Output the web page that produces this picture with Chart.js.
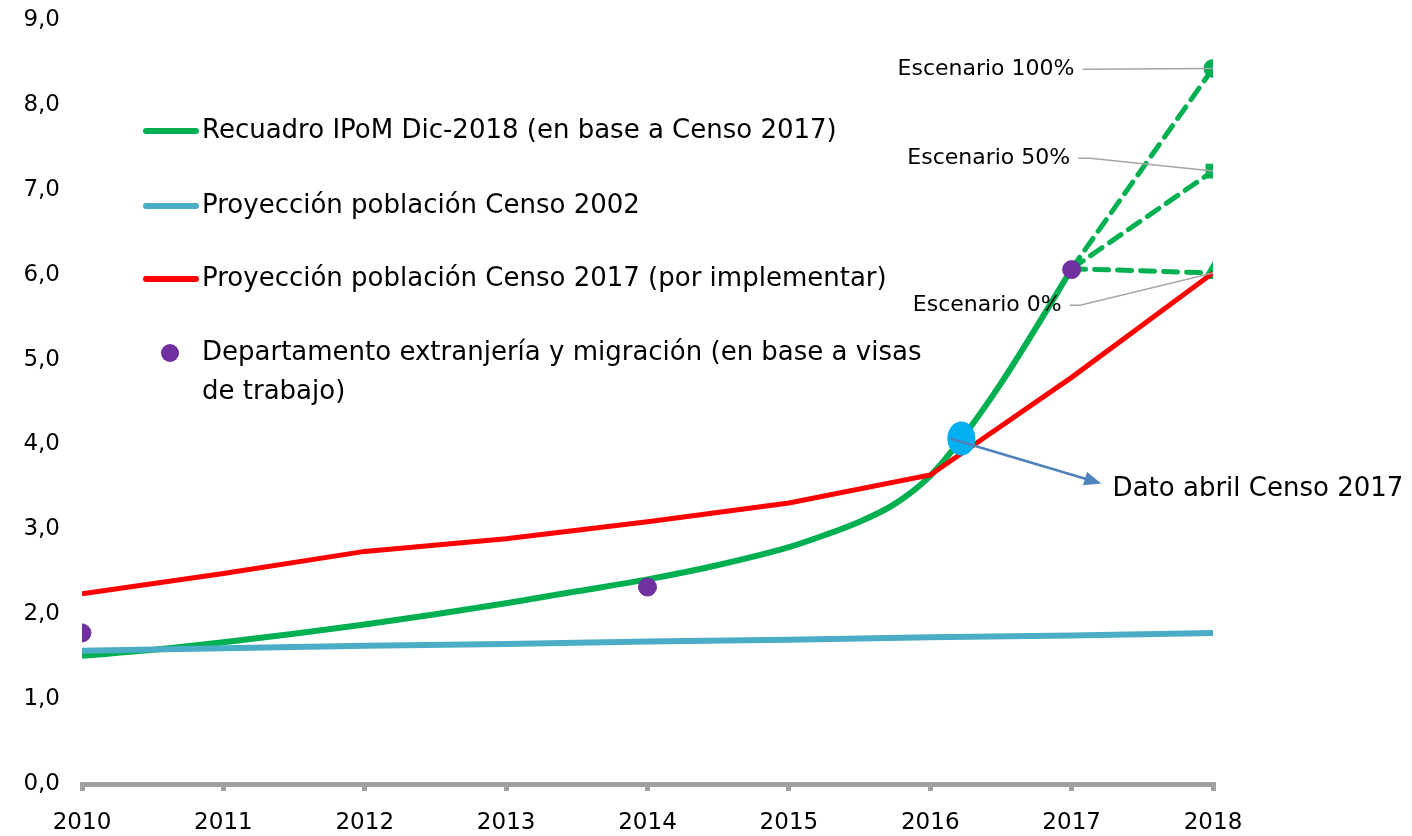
<!DOCTYPE html>
<html>
<head>
<meta charset="utf-8">
<script src="https://cdn.jsdelivr.net/npm/chart.js@4.4.1/dist/chart.umd.min.js"></script>
<style>
html, body { margin: 0; padding: 0; background: #fff; }
#wrap { width: 1412px; height: 836px; position: relative; }
</style>
</head>
<body>
<div id="wrap"><canvas id="graph"></canvas></div>
<script>
// --- data ---
const years = [2010, 2011, 2012, 2013, 2014, 2015, 2016, 2017, 2018];

const ipomX = [2010, 2010.5, 2011, 2011.5, 2012, 2012.5, 2013, 2013.5, 2014, 2014.5, 2015, 2015.25, 2015.5, 2015.75, 2016, 2016.25, 2016.5, 2016.75, 2017];
const ipomY = [1.51, 1.58, 1.67, 1.77, 1.88, 2.00, 2.13, 2.27, 2.41, 2.58, 2.79, 2.93, 3.09, 3.30, 3.63, 4.13, 4.72, 5.38, 6.07];

const censo2002 = [1.57, 1.60, 1.63, 1.65, 1.68, 1.70, 1.73, 1.75, 1.78];
const censo2017 = [2.24, 2.48, 2.74, 2.89, 3.09, 3.31, 3.64, 4.79, 6.02];

const demX = [2010, 2014, 2017];
const demY = [1.78, 2.32, 6.06];

const scenarioNames = ["Escenario 100%", "Escenario 50%", "Escenario 0%"];
const scenarioEnd = [8.43, 7.22, 6.02];
const scenarioStyle = ["circle", "rect", "triangle"];
const scenarioStart = 6.07;

const censoAbril = { x: 2016.22, y: 4.07 };
const censoLabel = "Dato abril Censo 2017";

const legendLabels = [
  "Recuadro IPoM Dic-2018 (en base a Censo 2017)",
  "Proyección población Censo 2002",
  "Proyección población Censo 2017 (por implementar)",
  "Departamento extranjería y migración (en base a visas",
  "de trabajo)"
];

const GREEN = "#00B050", TEAL = "#4BACC6", RED = "#FF0000", PURPLE = "#7030A0";
const FONT = "'DejaVu Sans', sans-serif";

function pts(xs, ys) {
  return xs.map((x, i) => ({ x: x, y: ys[i] }));
}

const datasets = [
  {
    label: legendLabels[0], data: pts(ipomX, ipomY),
    borderColor: GREEN, borderWidth: 6, pointRadius: 0,
    cubicInterpolationMode: "monotone", order: 3
  },
  {
    label: legendLabels[1], data: pts(years, censo2002),
    borderColor: TEAL, borderWidth: 6, pointRadius: 0, order: 2
  },
  {
    label: legendLabels[2], data: pts(years, censo2017),
    borderColor: RED, borderWidth: 5, pointRadius: 0, order: 1
  },
  {
    label: legendLabels[3], data: pts(demX, demY),
    showLine: false, pointRadius: 9, pointHoverRadius: 9,
    backgroundColor: PURPLE, borderColor: PURPLE, order: 0
  }
];
scenarioEnd.forEach((v, i) => {
  datasets.push({
    label: scenarioNames[i],
    data: [{ x: 2017, y: scenarioStart }, { x: 2018, y: v }],
    borderColor: GREEN, backgroundColor: GREEN, borderWidth: 5,
    borderDash: [14, 9], borderCapStyle: "round",
    pointStyle: scenarioStyle[i], pointRadius: [0, 7], order: 4
  });
});

// label anchors for the scenario call-outs (x, y in data units)
const scenarioLabelAt = [
  { x: 2017.02, y: 8.42, bend: [2017.08, 8.42] },
  { x: 2016.99, y: 7.37, bend: [2017.13, 7.37] },
  { x: 2016.93, y: 5.64, bend: [2017.06, 5.64] }
];

const overlay = {
  id: "overlay",
  afterDatasetsDraw(chart) {
    const ctx = chart.ctx;
    const xs = chart.scales.x, ys = chart.scales.y;
    ctx.save();

    // scenario call-outs
    ctx.font = "22px " + FONT;
    ctx.fillStyle = "#000";
    ctx.textAlign = "right";
    ctx.textBaseline = "middle";
    ctx.strokeStyle = "#A6A6A6";
    ctx.lineWidth = 1.5;
    scenarioLabelAt.forEach((a, i) => {
      const lx = xs.getPixelForValue(a.x), ly = ys.getPixelForValue(a.y);
      ctx.fillText(scenarioNames[i], lx, ly);
      ctx.beginPath();
      ctx.moveTo(lx + 8, ly);
      ctx.lineTo(xs.getPixelForValue(a.bend[0]), ys.getPixelForValue(a.bend[1]));
      ctx.lineTo(xs.getPixelForValue(2018), ys.getPixelForValue(scenarioEnd[i]));
      ctx.stroke();
    });

    // april census ellipse + arrow
    const cx = xs.getPixelForValue(censoAbril.x), cy = ys.getPixelForValue(censoAbril.y);
    ctx.fillStyle = "#00B0F0";
    ctx.beginPath();
    ctx.ellipse(cx, cy, 14, 17, 0, 0, Math.PI * 2);
    ctx.fill();
    const sx = xs.getPixelForValue(2016.14), sy = cy;
    const tx = xs.getPixelForValue(2017.21), ty = ys.getPixelForValue(3.54);
    const ang = Math.atan2(ty - sy, tx - sx);
    ctx.strokeStyle = "#4F81BD";
    ctx.fillStyle = "#4F81BD";
    ctx.lineWidth = 2.5;
    ctx.beginPath();
    ctx.moveTo(sx, sy);
    ctx.lineTo(tx - 14 * Math.cos(ang), ty - 14 * Math.sin(ang));
    ctx.stroke();
    ctx.beginPath();
    ctx.moveTo(tx, ty);
    ctx.lineTo(tx - 17 * Math.cos(ang) + 7 * Math.sin(ang), ty - 17 * Math.sin(ang) - 7 * Math.cos(ang));
    ctx.lineTo(tx - 17 * Math.cos(ang) - 7 * Math.sin(ang), ty - 17 * Math.sin(ang) + 7 * Math.cos(ang));
    ctx.closePath();
    ctx.fill();
    ctx.fillStyle = "#000";
    ctx.textAlign = "left";
    ctx.font = "26px " + FONT;
    ctx.fillText(censoLabel, xs.getPixelForValue(2017.29), ys.getPixelForValue(3.47));

    // legend
    const rows = [131, 206, 279, 353, 392];
    const lineColors = [GREEN, TEAL, RED];
    ctx.lineCap = "round";
    ctx.lineWidth = 6;
    lineColors.forEach((c, i) => {
      ctx.strokeStyle = c;
      ctx.beginPath();
      ctx.moveTo(146, rows[i]);
      ctx.lineTo(196, rows[i]);
      ctx.stroke();
    });
    ctx.fillStyle = PURPLE;
    ctx.beginPath();
    ctx.arc(170, rows[3], 9, 0, Math.PI * 2);
    ctx.fill();
    ctx.fillStyle = "#000";
    ctx.font = "26px " + FONT;
    legendLabels.forEach((t, i) => ctx.fillText(t, 202, rows[i]));

    ctx.restore();
  }
};

new Chart(document.getElementById("graph"), {
  type: "line",
  data: { datasets: datasets },
  plugins: [overlay],
  options: {
    responsive: true,
    maintainAspectRatio: false,
    animation: false,
    layout: { padding: { top: 20, right: 199, bottom: 0, left: 0 } },
    plugins: { legend: { display: false }, tooltip: { enabled: false } },
    scales: {
      x: {
        type: "linear", min: 2010, max: 2018,
        afterFit: s => { s.height = 52; },
        border: { display: true, color: "#A0A0A0", width: 5 },
        grid: { drawOnChartArea: false, drawTicks: true, tickLength: 7, color: "#A0A0A0", lineWidth: 5 },
        ticks: {
          stepSize: 1, padding: 18, color: "#000",
          font: { family: FONT, size: 23 },
          callback: v => String(v)
        }
      },
      y: {
        min: 0, max: 9,
        afterFit: s => { s.width = 82; s.paddingTop = 0; s.paddingBottom = 0; },
        border: { display: false },
        grid: { display: false, drawTicks: false },
        ticks: {
          stepSize: 1, padding: 22, color: "#000",
          font: { family: FONT, size: 23 },
          callback: v => v.toFixed(1).replace(".", ",")
        }
      }
    }
  }
});
</script>
</body>
</html>
